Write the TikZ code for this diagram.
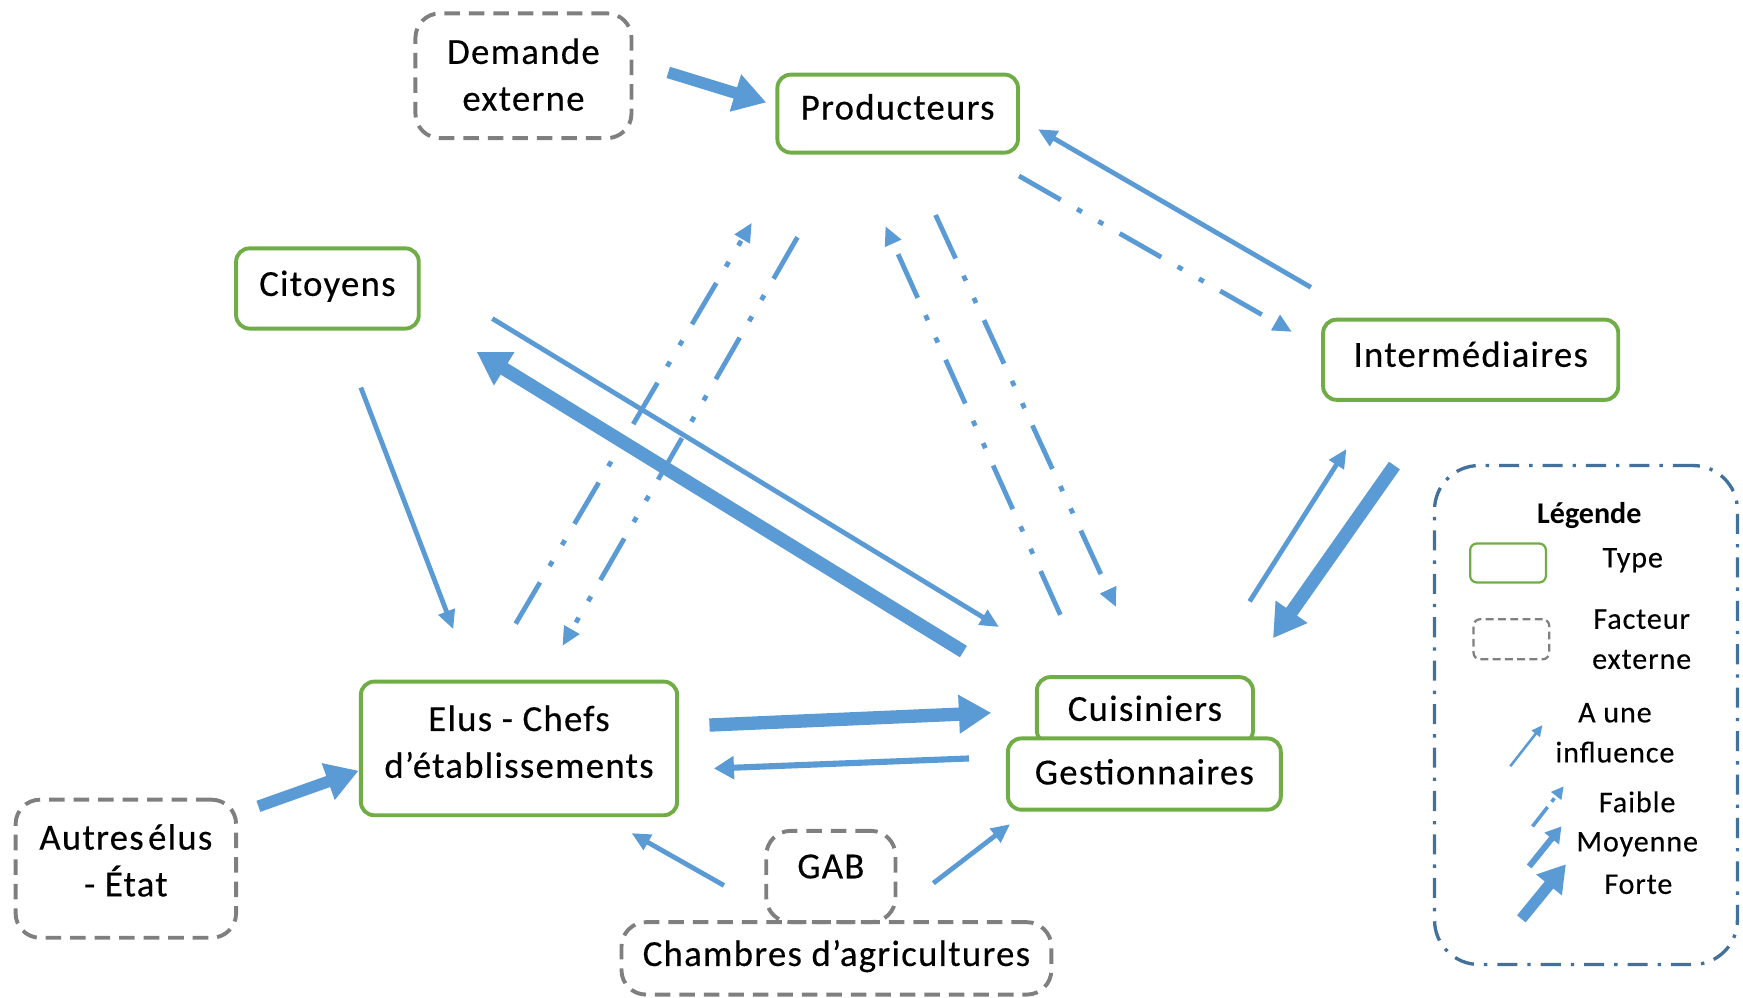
\documentclass[tikz,border=0pt]{standalone}
\usepackage{fontspec}
\setmainfont{Carlito}
\newfontfamily\boxfont{Carlito}[FakeBold=0.35, LetterSpace=3.5]
\newfontfamily\legfont{Carlito}[FakeBold=0.3, LetterSpace=3]
\usetikzlibrary{arrows.meta}
\definecolor{ablue}{HTML}{5B9BD5}
\definecolor{agreen}{HTML}{70AD47}
\definecolor{agrey}{HTML}{7F7F7F}
\definecolor{lblue}{HTML}{41719C}
\begin{document}
\begin{tikzpicture}[x=1pt,y=-1pt,
  boxtext/.style={font=\boxfont\fontsize{33}{42}\selectfont, align=center, inner sep=0pt},
  typebox/.style={draw=agreen, line width=3.5pt, rounded corners=12pt, fill=white, inner sep=0pt},
  extbox/.style={draw=agrey, line width=3.5pt, dash pattern=on 14pt off 8pt, rounded corners=22pt, inner sep=0pt},
  thin/.style={draw=ablue, line width=4.3pt, -{Triangle[length=17pt,width=15pt]}},
  weak/.style={thin, dash pattern=on 43pt off 17pt on 5pt off 17pt on 5pt off 17pt},
  mid/.style={draw=ablue, line width=5.5pt, -{Triangle[length=18pt,width=20pt]}},
  strong/.style={draw=ablue, line width=12pt, -{Triangle[length=29pt,width=33pt]}},
  lgtext/.style={font=\legfont\fontsize{27}{36}\selectfont, align=center, inner sep=0pt},
  legendbox/.style={draw=lblue, line width=3pt, dash pattern=on 18pt off 9pt on 3pt off 9pt, rounded corners=40pt, inner sep=0pt}
]
\useasboundingbox (0,0) rectangle (1565,896);

% nodes
\node[extbox, minimum width=194pt, minimum height=112pt,
  label={[boxtext, yshift=1pt]center:Demande\\externe}] (dem) at (470,68) {};
\node[typebox, minimum width=216pt, minimum height=70pt,
  label={[boxtext, yshift=6pt]center:Producteurs}] (prod) at (806,102) {};
\node[typebox, minimum width=164pt, minimum height=72pt,
  label={[boxtext, yshift=2pt]center:Citoyens}] (cit) at (294,259) {};
\node[typebox, minimum width=265pt, minimum height=72pt,
  label={[boxtext, yshift=5pt]center:Intermédiaires}] (inter) at (1320.5,323) {};
\node[typebox, minimum width=284pt, minimum height=120pt,
  label={[boxtext, yshift=6pt]center:Elus - Chefs\\d’établissements}] (elus) at (466,672) {};
\node[typebox, minimum width=194pt, minimum height=60pt,
  label={[boxtext, yshift=2pt]center:Cuisiniers}] (cuis) at (1028,638) {};
\node[typebox, minimum width=245pt, minimum height=64pt,
  label={[boxtext, yshift=2pt]center:Gestionnaires}] (gest) at (1027.5,695) {};
\node[extbox, minimum width=198pt, minimum height=124pt,
  label={[boxtext, yshift=7.5pt]center:{\spaceskip=0.12em Autres élus}\\- État}] (autres) at (113,780) {};
\node[extbox, minimum width=386pt, minimum height=65pt,
  label={[boxtext, yshift=2pt]center:Chambres d’agricultures}] (chamb) at (751,860.5) {};
\node[extbox, minimum width=116pt, minimum height=82pt,
  label={[boxtext, yshift=9pt]center:GAB}] (gab) at (746,787) {};

% connector end points
\coordinate (a1) at (600,65);   \coordinate (a2) at (688,92);
\coordinate (b1) at (1177,258); \coordinate (b2) at (932,116);
\coordinate (c1) at (915,158);  \coordinate (c2) at (1160,298);
\coordinate (d1) at (324,348);  \coordinate (d2) at (407,565);
\coordinate (e1) at (463,560);  \coordinate (e2) at (675,200);
\coordinate (f1) at (716,213);  \coordinate (f2) at (505,580);
\coordinate (g1) at (952,552);  \coordinate (g2) at (795,203);
\coordinate (h1) at (840,193);  \coordinate (h2) at (1002,545);
\coordinate (i1) at (442,286);  \coordinate (i2) at (897,563);
\coordinate (j1) at (865,585);  \coordinate (j2) at (428,316);
\coordinate (k1) at (637,651);  \coordinate (k2) at (890,640);
\coordinate (l1) at (870,681);  \coordinate (l2) at (641,690);
\coordinate (m1) at (1252,418); \coordinate (m2) at (1143,573);
\coordinate (n1) at (1122,540); \coordinate (n2) at (1209,403);
\coordinate (o1) at (232,724);  \coordinate (o2) at (322,692);
\coordinate (p1) at (650,795);  \coordinate (p2) at (567,748);
\coordinate (q1) at (838,793);  \coordinate (q2) at (907,740);

% connectors
\draw[strong, line width=10.5pt] (a1) -- (a2);
\draw[thin] (b1) -- (b2);
\draw[weak] (c1) -- (c2);
\draw[thin] (d1) -- (d2);
\draw[weak] (e1) -- (e2);
\draw[weak] (f1) -- (f2);
\draw[weak] (g1) -- (g2);
\draw[weak] (h1) -- (h2);
\draw[thin] (i1) -- (i2);
\draw[strong] (j1) -- (j2);
\draw[strong] (k1) -- (k2);
\draw[mid] (l1) -- (l2);
\draw[strong] (m1) -- (m2);
\draw[thin] (n1) -- (n2);
\draw[strong, line width=10.5pt] (o1) -- (o2);
\draw[thin] (p1) -- (p2);
\draw[thin] (q1) -- (q2);

% legend
\node[legendbox, minimum width=272pt, minimum height=448pt] (leg) at (1424,642) {};
\node[inner sep=0pt, font=\fontsize{27}{36}\selectfont\bfseries] (legt) at (1427,463) {Légende};
\node[draw=agreen, line width=2pt, rounded corners=6pt, minimum width=68pt, minimum height=35pt, inner sep=0pt] (lgtype) at (1354,505.5) {};
\node[lgtext] (lgtypet) at (1466,503) {Type};
\node[draw=agrey, line width=2pt, dash pattern=on 7pt off 4pt, rounded corners=6pt, minimum width=68pt, minimum height=36pt, inner sep=0pt] (lgext) at (1357,574) {};
\node[lgtext] (lgextt) at (1474,574) {Facteur\\externe};
\node[lgtext] (lginf) at (1450,658) {A une\\influence};
\node[lgtext] (lgfai) at (1470,720) {Faible};
\node[lgtext] (lgmoy) at (1470,758) {Moyenne};
\node[lgtext] (lgfor) at (1471,794) {Forte};
\coordinate (r1) at (1356,688); \coordinate (r2) at (1385,651);
\coordinate (s1) at (1376,742); \coordinate (s2) at (1404,706);
\coordinate (t1) at (1373,778); \coordinate (t2) at (1402,742);
\coordinate (u1) at (1366,825); \coordinate (u2) at (1406,776);
\draw[draw=ablue, line width=2.3pt, -{Triangle[length=10pt,width=9pt]}] (r1) -- (r2);
\draw[draw=ablue, line width=3.2pt, dash pattern=on 22pt off 6pt on 4pt off 6pt, -{Triangle[length=11pt,width=11pt]}] (s1) -- (s2);
\draw[draw=ablue, line width=5.5pt, -{Triangle[length=14pt,width=16pt]}] (t1) -- (t2);
\draw[draw=ablue, line width=10pt, -{Triangle[length=24pt,width=28pt]}] (u1) -- (u2);
\end{tikzpicture}
\end{document}
